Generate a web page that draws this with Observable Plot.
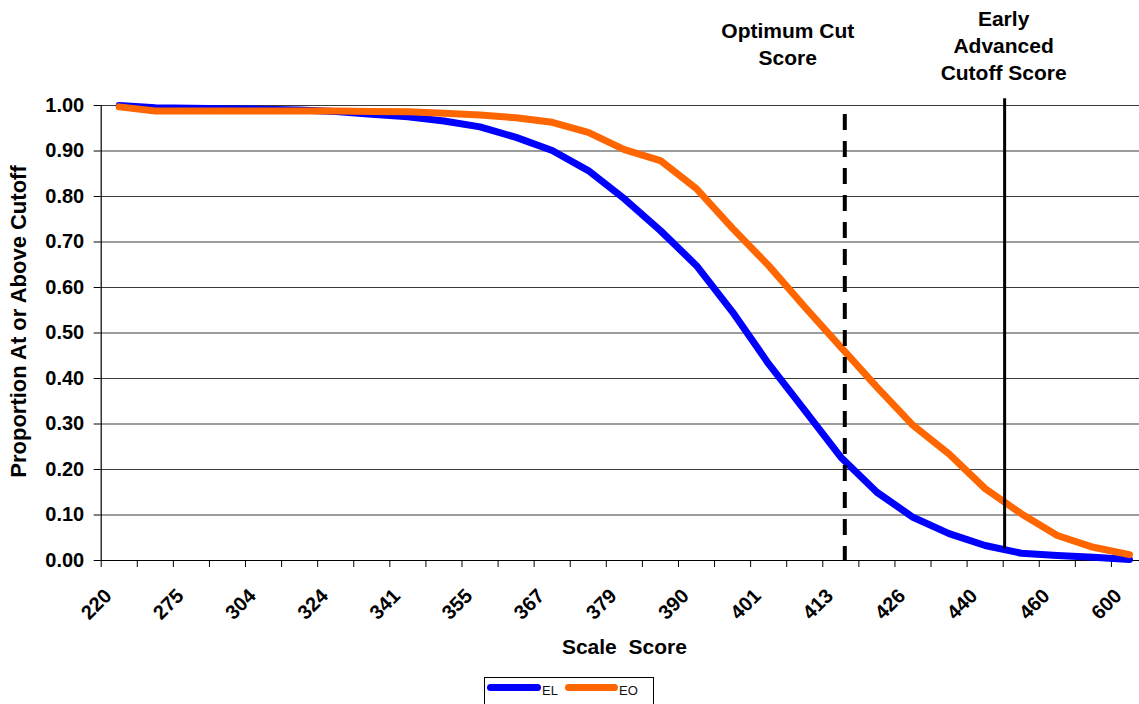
<!DOCTYPE html>
<html>
<head>
<meta charset="utf-8">
<script src="https://cdn.jsdelivr.net/npm/d3@7"></script>
<script src="https://cdn.jsdelivr.net/npm/@observablehq/plot@0.6"></script>
<style>
  html, body { margin: 0; padding: 0; background: #fff; overflow: hidden; width: 1139px; height: 704px; }
  #chart { position: absolute; left: 0; top: 0; }
  .lg { position: absolute; }
  .lgbox { left: 484px; top: 677px; width: 170px; height: 40px; border: 1px solid #000; box-sizing: border-box; }
  .sw { height: 7px; border-radius: 4px; top: 684px; }
  .lt { font: 13px "Liberation Sans", Arial, sans-serif; line-height: 13px; top: 684px; color: #111; }
</style>
</head>
<body>
<div id="chart"></div>
<div class="lg lgbox"></div>
<div class="lg sw" style="left:487px;width:54px;background:#0000ff;"></div>
<div class="lg lt" style="left:542px;">EL</div>
<div class="lg sw" style="left:565px;width:53px;background:#ff6600;"></div>
<div class="lg lt" style="left:619px;">EO</div>
<script>
// Scale-score categories (every other one is labelled on the axis)
const scaleScores = [220, 260, 275, 292, 304, 315, 324, 333, 341, 348, 355, 361, 367, 373, 379,
                     385, 390, 396, 401, 407, 413, 419, 426, 433, 440, 449, 460, 480, 600];
const tickLabels = ["220", "275", "304", "324", "341", "355", "367", "379", "390", "401", "413", "426", "440", "460", "600"];

// Proportion at or above cutoff
const elValues = [1.000, 0.995, 0.994, 0.993, 0.992, 0.990, 0.987, 0.981, 0.975, 0.966, 0.953, 0.930, 0.901, 0.857, 0.795,
                  0.725, 0.648, 0.546, 0.432, 0.330, 0.227, 0.150, 0.095, 0.059, 0.033, 0.016, 0.011, 0.007, 0.002];
const eoValues = [0.997, 0.988, 0.988, 0.988, 0.988, 0.988, 0.988, 0.987, 0.986, 0.983, 0.979, 0.973, 0.963, 0.941, 0.903,
                  0.879, 0.817, 0.730, 0.648, 0.557, 0.469, 0.381, 0.297, 0.234, 0.158, 0.103, 0.055, 0.029, 0.013];

// Cut-score reference lines (position in category-index units, vertical extent in proportion units)
const cutNames = ["Optimum Cut\nScore", "Early\nAdvanced\nCutoff Score"];
const cutPositions = [20.11, 24.54];
const cutTops = [0.98, 1.015];
const cutBottoms = [0.0, 0.026];

const yTicks = [0, 0.1, 0.2, 0.3, 0.4, 0.5, 0.6, 0.7, 0.8, 0.9, 1.0];

const idx = scaleScores.map((_, i) => i);
const boundaries = scaleScores.map((_, i) => i - 0.5).concat([scaleScores.length - 0.5]);
const labelIdx = tickLabels.map((_, k) => k * 2);
const el = idx.map(i => ({i, v: elValues[i]}));
const eo = idx.map(i => ({i, v: eoValues[i]}));
const cuts = cutNames.map((name, k) => ({name, pos: cutPositions[k], top: cutTops[k], bottom: cutBottoms[k]}));

const font = '"Liberation Sans", Arial, sans-serif';

const chart = Plot.plot({
  width: 1139,
  height: 670,
  marginLeft: 100.7,
  marginRight: -8,
  marginTop: 105,
  marginBottom: 110,
  style: {fontFamily: font, fontWeight: "bold", fontSize: "20px", color: "#000", background: "#fff", overflow: "visible"},
  x: {domain: [-0.5, scaleScores.length - 0.5], axis: null},
  y: {domain: [0, 1], axis: null},
  marks: [
    Plot.ruleY(yTicks.filter(v => v > 0), {stroke: "#3a3a3a", strokeWidth: 1}),
    Plot.axisY({ticks: yTicks, tickFormat: d3.format(".2f"), tickSize: 7, tickPadding: 10, fontSize: 20, fontWeight: "bold", label: null}),
    Plot.axisX({ticks: boundaries, tickSize: 7, tickFormat: () => "", label: null}),
    Plot.ruleY([0], {stroke: "#000", strokeWidth: 1.2}),
    Plot.ruleX([-0.5], {y1: 0, y2: 1, stroke: "#000", strokeWidth: 1.2}),
    Plot.text(labelIdx, {x: d => d, frameAnchor: "bottom", text: d => tickLabels[d / 2], rotate: -45,
      textAnchor: "end", lineAnchor: "middle", dx: -11, dy: 32, fontSize: 20, fontWeight: "bold"}),
    Plot.line(el, {x: "i", y: "v", stroke: "#0000ff", strokeWidth: 7, strokeLinejoin: "round", strokeLinecap: "round"}),
    Plot.line(eo, {x: "i", y: "v", stroke: "#ff6600", strokeWidth: 7, strokeLinejoin: "round", strokeLinecap: "round"}),
    Plot.ruleX(cuts.slice(0, 1), {x: "pos", y1: "top", y2: "bottom", stroke: "#000", strokeWidth: 4, strokeDasharray: "16,11"}),
    Plot.ruleX(cuts.slice(1, 2), {x: "pos", y1: "top", y2: "bottom", stroke: "#000", strokeWidth: 3}),
    Plot.text(cuts.slice(0, 1), {x: "pos", frameAnchor: "top", text: "name", lineAnchor: "top", lineHeight: 1.3,
      dx: -57, dy: -87, fontSize: 21, fontWeight: "bold"}),
    Plot.text(cuts.slice(1, 2), {x: "pos", frameAnchor: "top", text: "name", lineAnchor: "top", lineHeight: 1.3,
      dx: -1, dy: -99, fontSize: 21, fontWeight: "bold"}),
    Plot.text(["Proportion At or Above Cutoff"], {frameAnchor: "left", rotate: -90, textAnchor: "middle", dx: -82, dy: -11.5,
      fontSize: 22, fontWeight: "bold"}),
    Plot.text(["Scale \u00a0Score"], {frameAnchor: "bottom", dy: 93, fontSize: 21, fontWeight: "bold"})
  ]
});
document.getElementById("chart").appendChild(chart);
</script>
</body>
</html>
